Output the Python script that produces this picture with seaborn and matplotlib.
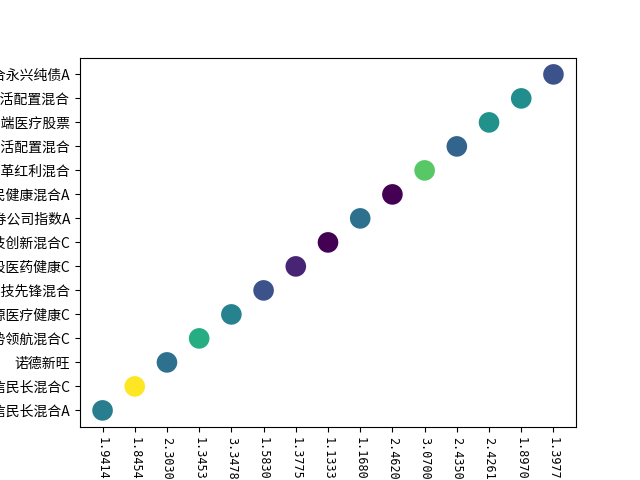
import matplotlib
matplotlib.use("Agg")
import matplotlib.pyplot as plt
import seaborn as sns
import pandas as pd

plt.rcParams['font.family'] = ['Noto Sans CJK SC', 'DejaVu Sans']
plt.rcParams['axes.unicode_minus'] = False

funds = [
    "金信民长混合A",
    "金信民长混合C",
    "诺德新旺",
    "华商优势领航混合C",
    "前海开源医疗健康C",
    "万家科技先锋混合",
    "汇添富港股医药健康C",
    "华夏科技创新混合C",
    "南方证券公司指数A",
    "广发国民健康混合A",
    "景顺长城改革红利混合",
    "前海开源灵活配置混合",
    "中欧高端医疗股票",
    "国泰灵活配置混合",
    "嘉合永兴纯债A",
]
values = ["1.9414", "1.8454", "2.3030", "1.3453", "3.3478", "1.5830", "1.3775",
          "1.1333", "1.1680", "2.4620", "3.0700", "2.4350", "2.4261", "1.8970",
          "1.3977"]
score = [0.42, 1.0, 0.37, 0.62, 0.44, 0.25, 0.10, 0.0, 0.37, 0.0, 0.74, 0.32,
         0.50, 0.49, 0.25]

df = pd.DataFrame({"value": values, "fund": funds, "score": score})

fig, ax = plt.subplots(figsize=(6.4, 4.8), dpi=100)
sns.scatterplot(data=df, x="value", y="fund", hue="score", palette="viridis",
                hue_norm=(0, 1), s=220, linewidth=0, legend=False, ax=ax)
ax.set_xlabel("")
ax.set_ylabel("")
ax.set_ylim(-0.7, len(funds) - 0.3)
for lab in ax.get_xticklabels():
    lab.set_rotation(270)
    lab.set_family("DejaVu Sans Mono")
    lab.set_fontsize(8.5)
fig.savefig("out.png", dpi=100)
